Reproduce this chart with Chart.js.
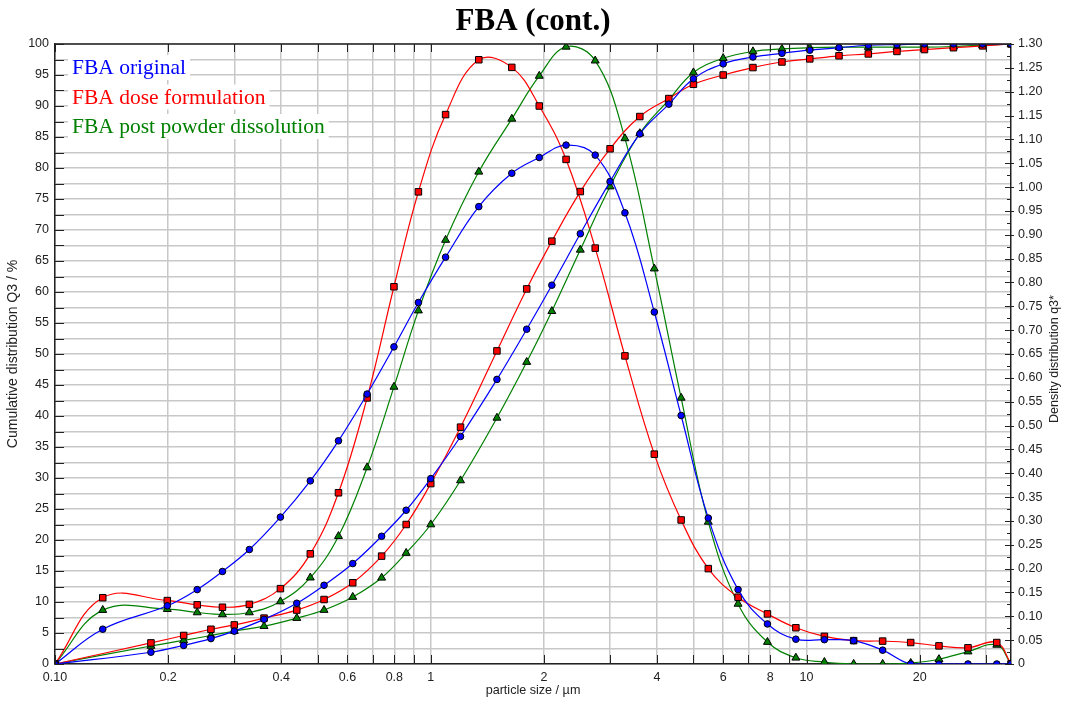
<!DOCTYPE html>
<html><head><meta charset="utf-8">
<script src="https://cdn.jsdelivr.net/npm/chart.js@4/dist/chart.umd.min.js"></script>
<style>html,body{margin:0;padding:0;background:#fff}#wrap{width:1066px;height:706px}</style>
</head><body><div id="wrap"><canvas id="c" width="1066" height="706"></canvas></div>
<script>
// particle size class upper edges (µm) for cumulative Q3
const sizeEdges = [0.10, 0.18, 0.22, 0.26, 0.30, 0.36, 0.44, 0.52, 0.62, 0.74, 0.86, 1.00, 1.20, 1.50, 1.80, 2.10, 2.50, 3.00, 3.60, 4.30, 5.00, 6.00, 7.20, 8.60, 10.20, 12.20, 14.60, 17.40, 20.60, 24.60, 29.40, 35.00];
// class mid sizes (µm) for density q3*
const sizeMid = [0.10, 0.134, 0.199, 0.239, 0.279, 0.329, 0.398, 0.478, 0.568, 0.677, 0.798, 0.927, 1.095, 1.342, 1.643, 1.944, 2.291, 2.739, 3.286, 3.934, 4.637, 5.477, 6.573, 7.869, 9.366, 11.155, 13.346, 15.94, 18.93, 22.51, 26.89, 32.08, 35.00];

const cumOriginal = [0, 1.9, 3.0, 4.1, 5.3, 7.2, 9.8, 12.7, 16.2, 20.6, 24.8, 29.9, 36.7, 45.9, 54.0, 61.1, 69.4, 77.8, 85.5, 90.3, 94.4, 96.8, 97.9, 98.5, 99.0, 99.4, 99.8, 99.9, 100, 100, 100, 100];
const cumDose = [0, 3.4, 4.6, 5.6, 6.3, 7.4, 8.7, 10.4, 13.1, 17.4, 22.5, 29.1, 38.2, 50.5, 60.5, 68.2, 76.2, 83.1, 88.3, 91.2, 93.5, 95.0, 96.2, 97.1, 97.6, 98.1, 98.4, 98.8, 99.1, 99.4, 99.7, 100];
const cumPost = [0, 2.9, 3.8, 4.6, 5.3, 6.1, 7.4, 8.7, 10.8, 13.9, 17.9, 22.5, 29.6, 39.7, 48.7, 56.9, 66.8, 77.0, 85.6, 91.0, 95.4, 97.7, 98.8, 99.2, 99.4, 99.5, 99.5, 99.5, 99.5, 99.6, 99.8, 100];

const densOriginal = [0, 0.073, 0.122, 0.156, 0.194, 0.240, 0.308, 0.384, 0.468, 0.566, 0.665, 0.758, 0.853, 0.959, 1.029, 1.062, 1.088, 1.067, 0.946, 0.738, 0.521, 0.306, 0.156, 0.084, 0.052, 0.051, 0.049, 0.029, 0, 0, 0, 0, 0];
const densDose = [0, 0.139, 0.133, 0.124, 0.119, 0.125, 0.158, 0.231, 0.359, 0.558, 0.791, 0.990, 1.152, 1.267, 1.251, 1.170, 1.058, 0.872, 0.646, 0.440, 0.302, 0.200, 0.140, 0.105, 0.076, 0.058, 0.049, 0.048, 0.045, 0.038, 0.034, 0.045, 0];
const densPost = [0, 0.113, 0.115, 0.108, 0.104, 0.108, 0.131, 0.181, 0.268, 0.412, 0.581, 0.741, 0.889, 1.032, 1.143, 1.233, 1.294, 1.265, 1.102, 0.829, 0.558, 0.298, 0.126, 0.046, 0.013, 0.004, 0, 0, 0.002, 0.010, 0.026, 0.040, 0];

const seriesNames = ['FBA original', 'FBA dose formulation', 'FBA post powder dissolution'];
const seriesColors = ['#0000ff', '#ff0000', '#008000'];
const xTickValues = [0.1, 0.2, 0.3, 0.4, 0.5, 0.6, 0.7, 0.8, 0.9, 1, 2, 3, 4, 5, 6, 7, 8, 9, 10, 20, 30];
const xTickLabels = ['0.10', '0.2', '', '0.4', '', '0.6', '', '0.8', '', '1', '2', '', '4', '', '6', '', '8', '', '10', '20', ''];

const SANS = "'Liberation Sans', Arial, sans-serif";
const SERIF = "'Liberation Serif', 'Times New Roman', serif";
const pts = (xs, ys) => ys.map((y, i) => ({x: xs[i], y}));

function ds(label, xs, ys, color, style, radius, axis) {
  return {
    label, data: pts(xs, ys), yAxisID: axis,
    borderColor: color, borderWidth: 1.2, tension: 0.4,
    pointStyle: style, pointRadius: radius, pointHoverRadius: radius,
    pointBackgroundColor: color, pointBorderColor: '#000', pointBorderWidth: 1,
    fill: false
  };
}

const extras = {
  id: 'extras',
  afterDraw(chart) {
    const ctx = chart.ctx, a = chart.chartArea;
    const x = chart.scales.x, y = chart.scales.y, y2 = chart.scales.y2;
    ctx.save();
    ctx.strokeStyle = '#222';
    ctx.beginPath(); ctx.moveTo(a.left, a.top); ctx.lineTo(a.right, a.top); ctx.lineWidth = 1.5; ctx.stroke();
    ctx.lineWidth = 1;
    ctx.beginPath();
    xTickValues.forEach(v => {
      const px = Math.round(x.getPixelForValue(v)) + 0.5;
      ctx.moveTo(px, a.top); ctx.lineTo(px, a.top + 8);
      ctx.moveTo(px, a.bottom); ctx.lineTo(px, a.bottom - 9);
    });
    y.ticks.forEach(t => {
      const py = Math.round(y.getPixelForValue(t.value)) + 0.5;
      ctx.moveTo(a.left, py); ctx.lineTo(a.left + 9, py);
    });
    y2.ticks.forEach(t => {
      const py = Math.round(y2.getPixelForValue(t.value)) + 0.5;
      ctx.moveTo(a.right - 6, py); ctx.lineTo(a.right + 3, py);
      if (t.value < 1.29) {
        const pm = Math.round(y2.getPixelForValue(t.value + 0.025)) + 0.5;
        ctx.moveTo(a.right - 4, pm); ctx.lineTo(a.right, pm);
      }
    });
    ctx.stroke();
    ctx.save();
    ctx.translate(1055, (a.top + a.bottom) / 2 + 5);
    ctx.rotate(-Math.PI / 2);
    ctx.fillStyle = '#222';
    ctx.font = '12.5px ' + SANS;
    ctx.textAlign = 'center'; ctx.textBaseline = 'middle';
    ctx.fillText('Density distribution q3*', 0, 0);
    ctx.restore();
    ctx.font = '21.5px ' + SERIF;
    ctx.textAlign = 'left'; ctx.textBaseline = 'alphabetic';
    seriesNames.forEach((n, i) => {
      const bx = 72, by = 74 + i * 29.5;
      const w = ctx.measureText(n).width;
      ctx.fillStyle = '#fff';
      ctx.fillRect(bx - 4, by - 19, w + 8, 25);
      ctx.fillStyle = seriesColors[i];
      ctx.fillText(n, bx, by);
    });
    ctx.restore();
  }
};

new Chart(document.getElementById('c'), {
  type: 'line',
  data: {
    datasets: [
      ds(seriesNames[0] + ' Q3', sizeEdges, cumOriginal, seriesColors[0], 'circle', 3.3, 'y'),
      ds(seriesNames[1] + ' Q3', sizeEdges, cumDose, seriesColors[1], 'rect', 4.6, 'y'),
      ds(seriesNames[2] + ' Q3', sizeEdges, cumPost, seriesColors[2], 'triangle', 4.6, 'y'),
      ds(seriesNames[0] + ' q3*', sizeMid, densOriginal, seriesColors[0], 'circle', 3.3, 'y2'),
      ds(seriesNames[1] + ' q3*', sizeMid, densDose, seriesColors[1], 'rect', 4.6, 'y2'),
      ds(seriesNames[2] + ' q3*', sizeMid, densPost, seriesColors[2], 'triangle', 4.6, 'y2')
    ]
  },
  options: {
    responsive: false, animation: false, devicePixelRatio: 1,
    layout: {padding: 0},
    plugins: {
      legend: {display: false},
      tooltip: {enabled: false},
      title: {display: true, text: 'FBA (cont.)', color: '#000',
        font: {family: SERIF, size: 31, weight: 'bold'}, padding: {top: 3, bottom: 3.8}}
    },
    scales: {
      x: {
        type: 'logarithmic', min: 0.1, max: 35,
        afterBuildTicks: s => { s.ticks = xTickValues.map(v => ({value: v})); },
        afterFit: s => { s.height = 42; },
        ticks: {autoSkip: false, maxRotation: 0, minRotation: 0, padding: 6, color: '#222',
          font: {family: SANS, size: 12.5},
          callback: (v, i) => xTickLabels[i]},
        grid: {color: '#c8c8c8', lineWidth: 1.5, drawTicks: false},
        border: {color: '#222', width: 1.5},
        title: {display: true, text: 'particle size / µm', color: '#222',
          font: {family: SANS, size: 12.6}, padding: {top: 0, bottom: 8}}
      },
      y: {
        position: 'left', min: 0, max: 100,
        afterFit: s => { s.width = 55; },
        ticks: {stepSize: 2.5, autoSkip: false, padding: 6, color: '#222',
          font: {family: SANS, size: 12.5},
          callback: v => (Math.abs(v % 5) < 1e-6 ? String(v) : '')},
        grid: {color: '#c8c8c8', lineWidth: 1.5, drawTicks: false},
        border: {color: '#222', width: 1.5},
        title: {display: true, text: 'Cumulative distribution Q3 / %', color: '#222',
          font: {family: SANS, size: 14}, padding: {top: 5, bottom: 0}}
      },
      y2: {
        position: 'right', min: 0, max: 1.3,
        afterFit: s => { s.width = 55; },
        ticks: {stepSize: 0.05, autoSkip: false, padding: 7, color: '#222',
          font: {family: SANS, size: 12.5},
          callback: v => (v === 0 ? '0' : Number(v).toFixed(2))},
        grid: {drawOnChartArea: false, drawTicks: false},
        border: {color: '#222', width: 1.5}
      }
    }
  },
  plugins: [extras]
});
</script>
</body></html>
